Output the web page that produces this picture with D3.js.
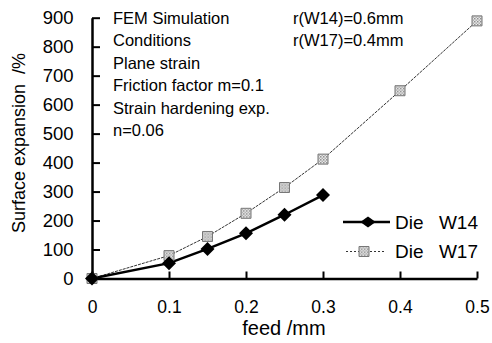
<!DOCTYPE html>
<html>
<head>
<meta charset="utf-8">
<script src="https://cdn.jsdelivr.net/npm/d3@7"></script>
<style>
  body { margin: 0; background: #fff; }
  text { font-family: "Liberation Sans", Arial, sans-serif; fill: #000; }
</style>
</head>
<body>
<svg class="chart"></svg>
<script>
var feedW14 = [0, 0.1, 0.15, 0.2, 0.25, 0.3];
var expW14 = [0, 53, 102, 156, 220, 288];
var feedW17 = [0, 0.1, 0.15, 0.2, 0.25, 0.3, 0.4, 0.5];
var expW17 = [0, 79, 145, 225, 314, 412, 648, 889];
var xTicks = [0, 0.1, 0.2, 0.3, 0.4, 0.5];
var yTicks = [0, 100, 200, 300, 400, 500, 600, 700, 800, 900];
var notes = ["FEM Simulation", "Conditions", "Plane strain", "Friction factor m=0.1", "Strain hardening exp.", "n=0.06"];
var radii = ["r(W14)=0.6mm", "r(W17)=0.4mm"];
var seriesDie = ["Die", "Die"];
var seriesNames = ["W14", "W17"];

var width = 492,
    height = 343;

var svg = d3.select(".chart").attr("width", width).attr("height", height),
    margin = {top: 17.7, right: 15, bottom: 64.5, left: 92},
    w = width - margin.left - margin.right,
    h = height - margin.top - margin.bottom,
    g = svg.append("g").attr("transform", "translate(" + margin.left + "," + margin.top + ")");

var x = d3.scaleLinear().domain([0, 0.5]).range([0, w]);
var y = d3.scaleLinear().domain([0, 900]).range([h, 0]);

// checkered fill for the W17 squares
var defs = svg.append("defs");
var pat = defs.append("pattern").attr("id", "chk")
    .attr("width", 3).attr("height", 3).attr("patternUnits", "userSpaceOnUse");
pat.append("rect").attr("width", 3).attr("height", 3).attr("fill", "#eee");
pat.append("rect").attr("width", 1.5).attr("height", 1.5).attr("fill", "#888");
pat.append("rect").attr("x", 1.5).attr("y", 1.5).attr("width", 1.5).attr("height", 1.5).attr("fill", "#aaa");

// axes
var xAxis = g.append("g")
    .attr("transform", "translate(0," + h + ")")
    .call(d3.axisBottom(x).tickValues(xTicks).tickSizeInner(-7).tickSizeOuter(0).tickPadding(22)
      .tickFormat(function(d) { return d === 0 ? "0" : d3.format(".1f")(d); }));
xAxis.select(".domain").attr("stroke-width", 2.5);
xAxis.selectAll(".tick line").attr("stroke-width", 2);
xAxis.selectAll("text").attr("font-size", 17.5).attr("dy", "0.71em");

var yAxis = g.append("g")
    .call(d3.axisLeft(y).tickValues(yTicks).tickSizeInner(-8).tickSizeOuter(0).tickPadding(18.5));
yAxis.select(".domain").attr("stroke-width", 2.5);
yAxis.selectAll(".tick line").attr("stroke-width", 2);
yAxis.selectAll("text").attr("font-size", 18.5);

// axis titles
svg.append("text")
    .attr("x", 284)
    .attr("y", 335)
    .attr("text-anchor", "middle")
    .attr("font-size", 20)
    .text("feed /mm");

svg.append("text")
    .attr("transform", "translate(25,143) rotate(-90)")
    .attr("text-anchor", "middle")
    .attr("font-size", 18)
    .style("white-space", "pre")
    .text("Surface expansion  /%");

// notes
svg.append("g").selectAll("text")
    .data(notes)
    .enter().append("text")
    .attr("x", 113)
    .attr("y", function(d, i) { return 24 + i * 22.4; })
    .attr("font-size", 16.5)
    .text(function(d) { return d; });

svg.append("g").selectAll("text")
    .data(radii)
    .enter().append("text")
    .attr("x", 293)
    .attr("y", function(d, i) { return 24 + i * 22.4; })
    .attr("font-size", 16.5)
    .text(function(d) { return d; });

// lines
var d17 = feedW17.map(function(f, i) { return [f, expW17[i]]; });
var d14 = feedW14.map(function(f, i) { return [f, expW14[i]]; });
var line = d3.line().x(function(d) { return x(d[0]); }).y(function(d) { return y(d[1]); });

g.append("path").datum(d17)
    .attr("fill", "none").attr("stroke", "#333").attr("stroke-width", 1)
    .attr("stroke-dasharray", "3,1")
    .attr("d", line);

g.append("path").datum(d14)
    .attr("fill", "none").attr("stroke", "#000").attr("stroke-width", 2.5)
    .attr("d", line);

var square = d3.symbol().type(d3.symbolSquare).size(100);
var diamond = d3.symbol().type(d3.symbolSquare).size(98);

g.selectAll(".m17").data(d17).enter().append("path")
    .attr("class", "m17")
    .attr("transform", function(d) { return "translate(" + x(d[0]) + "," + y(d[1]) + ")"; })
    .attr("d", square)
    .attr("fill", "url(#chk)").attr("stroke", "#777").attr("stroke-width", 1);

g.selectAll(".m14").data(d14).enter().append("path")
    .attr("class", "m14")
    .attr("transform", function(d) { return "translate(" + x(d[0]) + "," + y(d[1]) + ") rotate(45)"; })
    .attr("d", diamond)
    .attr("fill", "#000");

// legend
var legend = svg.append("g");
var ly = [222, 251.5];
legend.append("line").attr("x1", 343).attr("x2", 390).attr("y1", ly[0]).attr("y2", ly[0])
    .attr("stroke", "#000").attr("stroke-width", 2.5);
legend.append("path").attr("transform", "translate(368," + ly[0] + ") scale(1.1,0.8) rotate(45)")
    .attr("d", diamond).attr("fill", "#000");
legend.append("line").attr("x1", 346).attr("x2", 386).attr("y1", ly[1]).attr("y2", ly[1])
    .attr("stroke", "#333").attr("stroke-width", 1).attr("stroke-dasharray", "2,2");
legend.append("path").attr("transform", "translate(364," + ly[1] + ")").attr("d", square)
    .attr("fill", "url(#chk)").attr("stroke", "#777");
legend.selectAll(".ld").data(seriesDie).enter().append("text")
    .attr("class", "ld")
    .attr("x", 395)
    .attr("y", function(d, i) { return ly[i] + 6.5; })
    .attr("font-size", 19)
    .text(function(d) { return d; });
legend.selectAll(".ln").data(seriesNames).enter().append("text")
    .attr("class", "ln")
    .attr("x", 478)
    .attr("text-anchor", "end")
    .attr("y", function(d, i) { return ly[i] + 6.5; })
    .attr("font-size", 19)
    .text(function(d) { return d; });
</script>
</body>
</html>
